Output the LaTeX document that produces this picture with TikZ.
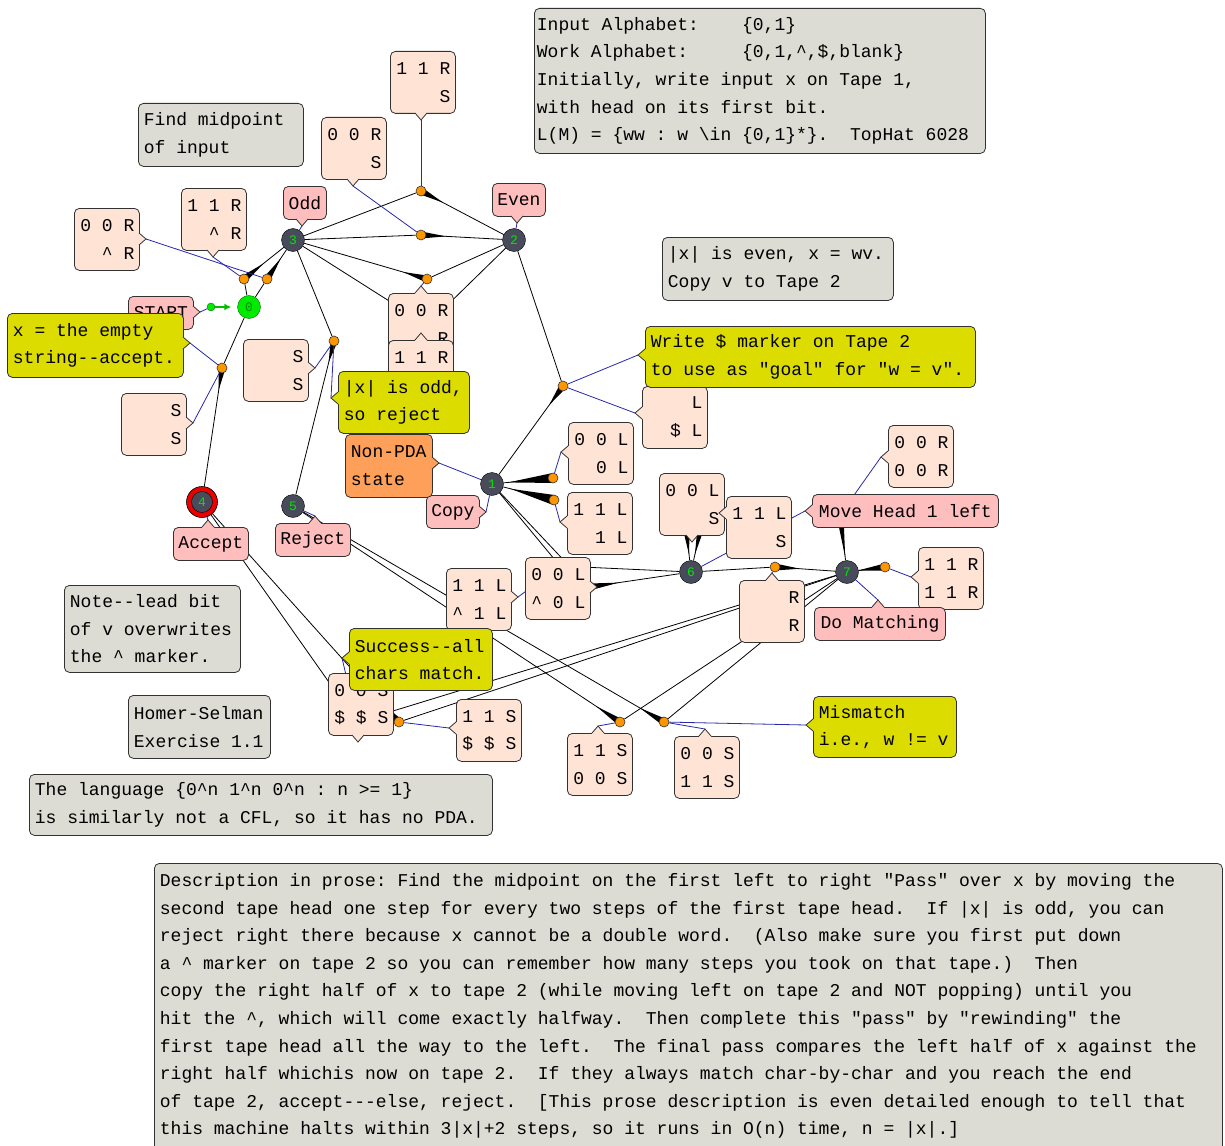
\documentclass[tikz,border=0pt]{standalone}
\usepackage{fontspec}
\setmonofont{Liberation Mono}
\usetikzlibrary{calc,arrows.meta}
\pgfdeclarelayer{bgw}
\pgfdeclarelayer{edges}
\pgfsetlayers{bgw,edges,main}
\definecolor{gbf}{RGB}{220,220,212}
\definecolor{pch}{RGB}{255,228,214}
\definecolor{pnk}{RGB}{255,190,190}
\definecolor{ylw}{RGB}{220,220,0}
\definecolor{org}{RGB}{255,160,90}
\definecolor{stf}{RGB}{72,76,90}
\definecolor{stn}{RGB}{0,230,0}
\definecolor{dotc}{RGB}{255,150,0}
\definecolor{blu}{RGB}{40,40,170}
\definecolor{bdr}{RGB}{50,50,50}
\definecolor{grn}{RGB}{0,235,0}
\definecolor{rring}{RGB}{235,0,0}
\tikzset{
  bx/.style={draw=bdr, line width=0.8pt},
  tbox/.style={bx, rounded corners=5pt, inner xsep=5.5pt, inner ysep=2pt, anchor=north west, align=left},
  gbx/.style={tbox, fill=gbf},
  ybx/.style={tbox, fill=ylw},
  obx/.style={tbox, fill=org},
  lbx/.style={bx, rounded corners=5pt, fill=pch, anchor=north west, minimum width=65pt, minimum height=62pt, inner xsep=5pt, inner ysep=2pt, text width=55pt, align=right},
  pbx/.style={bx, rounded corners=5pt, fill=pnk, anchor=north west, minimum height=33pt, inner xsep=0pt, inner ysep=2pt, align=center},
  stt/.style={circle, draw=black, fill=stf, minimum size=23pt, inner sep=0pt, text=stn, font=\ttfamily\fontsize{13}{13}\selectfont},
  odot/.style={circle, draw=black!80, fill=dotc, minimum size=10pt, inner sep=0pt, line width=0.6pt},
  ln/.style={draw=black, line width=0.8pt},
  bln/.style={draw=blu, line width=0.8pt},
}
\newcommand\mynotch[4]{%
  \begin{scope}[shift={#2},rotate=#3]
    \fill[#1] (-1.5,-6) -- (0,-6) -- (7,0) -- (0,6) -- (-1.5,6) -- cycle;
    \draw[bx] (0,-6) -- (7,0) -- (0,6);
    \coordinate (#4) at (7,0);
  \end{scope}}
\newcommand\wdg[4]{\fill[black] ($(#1)!#4!90:(#2)$) -- ($(#1)!#3!(#2)$) -- ($(#1)!#4!-90:(#2)$) -- cycle;}
\begin{document}
\begin{tikzpicture}[x=1pt,y=-1pt,font=\ttfamily\frenchspacing\fontsize{18}{27.6}\selectfont,
  execute at begin node={\spaceskip=0pt\relax\xspaceskip=0pt\relax}]
\useasboundingbox (0,0) rectangle (1225,1145);
\begin{pgfonlayer}{bgw}
\fill[white] (0,0) rectangle (1225,1145);
\end{pgfonlayer}

% ---------- states ----------
\node[stt, fill=grn, draw=green!45!black, text=green!55!black] (s0) at (249,307) {0};
\node[stt] (s3) at (293,240) {3};
\node[stt] (s2) at (514,240) {2};
\node[stt] (s1) at (492,484) {1};
\node[stt] (s5) at (293,506) {5};
\node[stt] (s6) at (691,572) {6};
\node[stt] (s7) at (847,572) {7};
\node[circle, fill=rring, draw=black, line width=0.6pt, minimum size=31pt, inner sep=0pt] (s4) at (202,502) {};
\node[stt, minimum size=21pt] (s4i) at (202,502) {4};

% start
\node[circle, fill=grn, draw=green!45!black, minimum size=8pt, inner sep=0pt] (gdot) at (211,307) {};
\draw[line width=2pt, draw=green!75!black, -{Latex[length=7pt,width=7pt]}, shorten >=6pt] (gdot) -- (s0);

% ---------- transition dots ----------
\node[odot] (d03a) at (244,279) {};
\node[odot] (d03b) at (267,279) {};
\node[odot] (d32a) at (421,191) {};
\node[odot] (d32b) at (421,235) {};
\node[odot] (d23a) at (427,279) {};
\node[odot] (d04) at (222,368) {};
\node[odot] (d35) at (334,341) {};
\node[odot] (d21) at (563,386) {};
\node[odot] (d11a) at (553,478) {};
\node[odot] (d11b) at (554,500) {};
\node[odot] (d67) at (775,567) {};
\node[odot] (d77a) at (885,567) {};
\node[odot] (d74a) at (399,722) {};
\node[odot] (d75a) at (620,722) {};
\node[odot] (d75b) at (664,722) {};
\coordinate (d23b) at (427,325);
\coordinate (d16a) at (560,566);
\coordinate (d16b) at (589,587);
\coordinate (d66a) at (686,527);
\coordinate (d66b) at (701,527);
\coordinate (d77b) at (840,515);
\coordinate (d74b) at (357,722);

% ---------- grey notes ----------
\node[gbx, inner xsep=2.5pt, text width=446pt, minimum height=145pt] (g1) at (534,8)
 {Input Alphabet:~~~~\{0,1\}\\
  Work Alphabet:~~~~~\{0,1,\textasciicircum,\$,blank\}\\
  Initially, write input x on Tape 1,\\
  with head on its first bit.\\
  L(M) = \{ww : w \textbackslash in \{0,1\}*\}.~~TopHat 6028};
\node[gbx, text width=154pt, minimum height=63pt] (g2) at (138,103) {Find midpoint\\of input};
\node[gbx, text width=220pt, minimum height=63pt] (g3) at (662,237) {|x| is even, x = wv.\\Copy v to Tape 2};
\node[gbx, text width=165pt, minimum height=87pt] (g4) at (64,585) {Note--lead bit\\of v overwrites\\the \textasciicircum{} marker.};
\node[gbx, text width=131pt, minimum height=63pt] (g5) at (128,695) {Homer-Selman\\Exercise 1.1};
\node[gbx, text width=452pt, minimum height=61pt] (g6) at (29,774)
 {The language \{0\textasciicircum n 1\textasciicircum n 0\textasciicircum n : n >= 1\}\\is similarly not a CFL, so it has no PDA.};
\node[gbx, inner ysep=10pt, text width=1057pt] (g7) at (154,863)
 {Description in prose: Find the midpoint on the first left to right "Pass" over x by moving the\\
  second tape head one step for every two steps of the first tape head.~~If |x| is odd, you can\\
  reject right there because x cannot be a double word.~~(Also make sure you first put down\\
  a \textasciicircum{} marker on tape 2 so you can remember how many steps you took on that tape.)~~Then\\
  copy the right half of x to tape 2 (while moving left on tape 2 and NOT popping) until you\\
  hit the \textasciicircum, which will come exactly halfway.~~Then complete this "pass" by "rewinding" the\\
  first tape head all the way to the left.~~The final pass compares the left half of x against the\\
  right half whichis now on tape 2.~~If they always match char-by-char and you reach the end\\
  of tape 2, accept---else, reject.~~[This prose description is even detailed enough to tell that\\
  this machine halts within 3|x|+2 steps, so it runs in O(n) time, n = |x|.]\\
  \mbox{}};

% ---------- transition labels ----------
\node[lbx] (l1) at (74,208) {0 0 R\\\textasciicircum{} R};
\mynotch{pch}{(139,239)}{0}{t1}
\node[lbx] (l2) at (181,188) {1 1 R\\\textasciicircum{} R};
\mynotch{pch}{(213,250)}{270}{t2}
\node[lbx] (l3) at (390,51) {1 1 R\\S};
\mynotch{pch}{(421,113)}{270}{t3}
\node[lbx] (l4) at (321,117) {0 0 R\\S};
\mynotch{pch}{(353,179)}{270}{t4}
\node[lbx] (l5) at (388,293) {0 0 R\\R};
\mynotch{pch}{(421,293)}{90}{t5}
\node[lbx] (l6) at (388,340) {1 1 R\\\mbox{}};
\mynotch{pch}{(421,340)}{90}{t6}
\node[lbx] (l7) at (121,393) {S\\S};
\mynotch{pch}{(186,423)}{0}{t7}
\node[lbx] (l8) at (243,339) {S\\S};
\mynotch{pch}{(308,368)}{0}{t8}
\node[lbx] (l9) at (642,386) {L\\\$ L};
\mynotch{pch}{(642,413)}{180}{t9}
\node[lbx] (l10) at (568,422) {0 0 L\\0 L};
\mynotch{pch}{(568,452)}{180}{t10}
\node[lbx] (l11) at (567,492) {1 1 L\\1 L};
\mynotch{pch}{(567,522)}{180}{t11}
\node[lbx] (l12) at (525,557) {0 0 L\\\textasciicircum{} 0 L};
\mynotch{pch}{(590,587)}{0}{t12}
\node[lbx] (l13) at (446,568) {1 1 L\\\textasciicircum{} 1 L};
\mynotch{pch}{(511,597)}{0}{t13}
\node[lbx] (l14) at (659,473) {0 0 L\\S};
\mynotch{pch}{(692,535)}{270}{t14}
\node[lbx] (l15) at (726,496) {1 1 L\\S};
\mynotch{pch}{(726,513)}{180}{t15}
\node[lbx] (l16) at (739,580) {R\\R};
\mynotch{pch}{(772,580)}{90}{t16}
\node[lbx] (l17) at (888,425) {0 0 R\\0 0 R};
\mynotch{pch}{(888,457)}{180}{t17}
\node[lbx] (l18) at (918,547) {1 1 R\\1 1 R};
\mynotch{pch}{(918,577)}{180}{t18}
\node[lbx] (l19) at (328,673) {0 0 S\\\$ \$ S};
\mynotch{pch}{(358,735)}{270}{t19}
\node[lbx] (l20) at (456,699) {1 1 S\\\$ \$ S};
\mynotch{pch}{(456,728)}{180}{t20}
\node[lbx] (l21) at (567,733) {1 1 S\\0 0 S};
\mynotch{pch}{(598,733)}{90}{t21}
\node[lbx] (l22) at (674,736) {0 0 S\\1 1 S};
\mynotch{pch}{(705,736)}{90}{t22}

% ---------- state labels ----------
\node[pbx, minimum width=43pt] (nodd) at (283,186) {Odd};
\mynotch{pnk}{(302,219)}{270}{todd}
\node[pbx, minimum width=53pt] (neven) at (492,183) {Even};
\mynotch{pnk}{(517,216)}{270}{teven}
\node[pbx, minimum width=65pt] (nstart) at (128,296) {START};
\mynotch{pnk}{(193,312)}{0}{tstart}
\node[pbx, minimum width=53pt] (ncopy) at (426,495) {Copy};
\mynotch{pnk}{(479,512)}{0}{tcopy}
\node[pbx, minimum width=75pt] (nacc) at (173,527) {Accept};
\mynotch{pnk}{(208,527)}{90}{tacc}
\node[pbx, minimum width=75pt] (nrej) at (275,523) {Reject};
\mynotch{pnk}{(315,523)}{90}{trej}
\node[pbx, minimum width=186pt] (nmove) at (812,494) {Move Head 1 left};
\mynotch{pnk}{(812,511)}{180}{tmove}
\node[pbx, minimum width=131pt] (nmatch) at (814,607) {Do Matching};
\mynotch{pnk}{(878,607)}{90}{tmatch}
\node[obx, text width=76pt, minimum height=63pt] (npda) at (345,434) {Non-PDA\\state};
\mynotch{org}{(432,463)}{0}{tpda}

% ---------- yellow notes ----------
\node[ybx, text width=165pt, minimum height=64pt] (y1) at (7,313) {x = the empty\\string--accept.};
\mynotch{ylw}{(183,343)}{0}{ty1}
\node[ybx, text width=120pt, minimum height=62pt] (y2) at (338,371) {|x| is odd,\\so reject};
\mynotch{ylw}{(338,398)}{180}{ty2}
\node[ybx, text width=319pt, minimum height=61pt] (y3) at (645,326) {Write \$ marker on Tape 2\\to use as "goal" for "w = v".};
\mynotch{ylw}{(645,355)}{180}{ty3}
\node[ybx, text width=132pt, minimum height=62pt] (y4) at (349,628) {Success--all\\chars match.};
\mynotch{ylw}{(349,658)}{180}{ty4}
\node[ybx, text width=132pt, minimum height=61pt] (y5) at (813,696) {Mismatch\\i.e., w != v};
\mynotch{ylw}{(813,725)}{180}{ty5}

% ---------- connectors ----------
\begin{pgfonlayer}{edges}
\draw[ln] (s0) -- (d03a) -- (s3);
\draw[ln] (s0) -- (d03b) -- (s3);
\draw[ln] (s3) -- (d32a) -- (s2);
\draw[ln] (s3) -- (d32b) -- (s2);
\draw[ln] (s2) -- (d23a) -- (s3);
\draw[ln] (s2) -- (d23b) -- (s3);
\draw[ln] (s0) -- (d04) -- (s4);
\draw[ln] (s3) -- (d35) -- (s5);
\draw[ln] (s2) -- (d21) -- (s1);
\draw[ln] (s1) -- (d11a);
\draw[ln] (s1) -- (d11b);
\draw[ln] (s1) -- (d16a) -- (s6);
\draw[ln] (s1) -- (d16b) -- (s6);
\draw[ln] (s6) -- (d66a);
\draw[ln] (s6) -- (d66b);
\draw[ln] (s6) -- (d67) -- (s7);
\draw[ln] (s7) -- (d77a);
\draw[ln] (s7) -- (d77b);
\draw[ln] (s7) -- (d74a) -- (s4);
\draw[ln] (s7) -- (d74b) -- (s4);
\draw[ln] (s7) -- (d75a) -- (s5);
\draw[ln] (s7) -- (d75b) -- (s5);
\wdg{d03a}{s3}{25pt}{3.5pt}
\wdg{d03b}{s3}{25pt}{3.5pt}
\wdg{d32a}{s2}{25pt}{3.5pt}
\wdg{d32b}{s2}{25pt}{3.5pt}
\wdg{d23a}{s3}{25pt}{3.5pt}
\wdg{d23b}{s3}{25pt}{3.5pt}
\wdg{d04}{s4}{22pt}{3.5pt}
\wdg{d35}{s5}{22pt}{3.5pt}
\wdg{d21}{s1}{24pt}{3.5pt}
\wdg{d11a}{s1}{45pt}{5pt}
\wdg{d11b}{s1}{45pt}{5pt}
\wdg{d16a}{s6}{30pt}{3.5pt}
\wdg{d16b}{s6}{30pt}{3.5pt}
\wdg{d66a}{s6}{28pt}{3.5pt}
\wdg{d66b}{s6}{28pt}{3.5pt}
\wdg{d67}{s7}{25pt}{3.5pt}
\wdg{d77a}{s7}{28pt}{3.5pt}
\wdg{d77b}{s7}{42pt}{3.5pt}
\wdg{d74a}{s4}{25pt}{3.5pt}
\wdg{d74b}{s4}{25pt}{3.5pt}
\wdg{d75a}{s5}{28pt}{3.5pt}
\wdg{d75b}{s5}{28pt}{3.5pt}
% callout lines
\draw[bln] (t1) -- (d03b);
\draw[bln] (t2) -- (d03a);
\draw[bln] (t3) -- (d32a);
\draw[bln] (t4) -- (d32b);
\draw[bln] (t5) -- (d23a);
\draw[bln] (t7) -- (d04);
\draw[bln] (t8) -- (d35);
\draw[bln] (t9) -- (d21);
\draw[bln] (t10) -- (d11a);
\draw[bln] (t11) -- (d11b);
\draw[bln] (t13) -- (d16a);
\draw[bln] (t16) -- (d67);
\draw[bln] (t17) -- (d77b);
\draw[bln] (t18) -- (d77a);
\draw[bln] (t20) -- (d74a);
\draw[bln] (t21) -- (d75a);
\draw[bln] (t22) -- (d75b);
\draw[bln] (todd) -- (s3);
\draw[bln] (teven) -- (s2);
\draw[bln] (tstart) -- (gdot);
\draw[bln] (tcopy) -- (s1);
\draw[bln] (tacc) -- (s4);
\draw[bln] (trej) -- (s5);
\draw[bln] (tmove) -- (s6);
\draw[bln] (tmatch) -- (s7);
\draw[bln] (tpda) -- (s1);
\draw[bln] (ty1) -- (d04);
\draw[bln] (ty2) -- (d35);
\draw[bln] (ty3) -- (d21);
\draw[bln] (ty4) -- (d74b);
\draw[bln] (ty5) -- (d75b);
\end{pgfonlayer}
\end{tikzpicture}
\end{document}
